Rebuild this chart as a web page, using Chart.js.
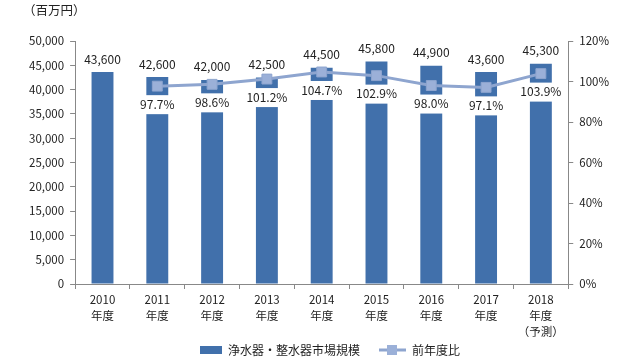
<!DOCTYPE html>
<html>
<head>
    <title>浄水器・整水器市場規模</title>
    <style>
        body { margin: 0; background: #fff; }
        #wrap { width: 640px; height: 360px; }
    </style>
    <script src="https://cdn.jsdelivr.net/npm/chart.js"></script>
</head>
<body>
    <div id="wrap"><canvas id="myChart" width="640" height="360"></canvas></div>
    <script>
        // datos
        var years = ['2010', '2011', '2012', '2013', '2014', '2015', '2016', '2017', '2018'];
        var yearLabels = [['2010', '年度'], ['2011', '年度'], ['2012', '年度'], ['2013', '年度'], ['2014', '年度'],
            ['2015', '年度'], ['2016', '年度'], ['2017', '年度'], ['2018', '年度', '（予測）']];
        var marketSize = [43600, 42600, 42000, 42500, 44500, 45800, 44900, 43600, 45300];
        var yoyRatio = [null, 97.7, 98.6, 101.2, 104.7, 102.9, 98.0, 97.1, 103.9];

        var barColor = '#4170AB';
        var lineColor = '#8EA5CF';
        var fontFam = '"Noto Sans CJK JP", "Noto Sans", sans-serif';

        // iconos de la leyenda (con margen transparente a la izquierda)
        function barIcon() {
            var c = document.createElement('canvas');
            c.width = 44; c.height = 8;
            var g = c.getContext('2d');
            g.fillStyle = barColor;
            g.fillRect(22, 0, 22, 8);
            return c;
        }
        function lineIcon() {
            var c = document.createElement('canvas');
            c.width = 44; c.height = 10;
            var g = c.getContext('2d');
            g.strokeStyle = lineColor;
            g.lineWidth = 3;
            g.beginPath(); g.moveTo(17, 5); g.lineTo(44, 5); g.stroke();
            g.fillStyle = '#9BB0D8';
            g.fillRect(25, 0, 10, 10);
            return c;
        }

        // etiquetas de datos
        var labelPlugin = {
            id: 'labels',
            afterDraw: function (chart) {
                var ctx = chart.ctx;
                ctx.save();
                ctx.font = '12px ' + fontFam;
                ctx.textAlign = 'center';
                ctx.textBaseline = 'middle';
                var barMeta = chart.getDatasetMeta(0);
                barMeta.data.forEach(function (el, i) {
                    ctx.fillStyle = '#222';
                    ctx.fillText(marketSize[i].toLocaleString('en-US'), el.x, el.y - 13);
                });
                var lineMeta = chart.getDatasetMeta(1);
                lineMeta.data.forEach(function (el, i) {
                    if (yoyRatio[i] === null) return;
                    var txt = yoyRatio[i].toFixed(1) + '%';
                    var w = ctx.measureText(txt).width + 6;
                    var cy = el.y + 18;
                    ctx.fillStyle = '#fff';
                    ctx.fillRect(el.x - w / 2, cy - 9, w, 19);
                    ctx.fillStyle = '#222';
                    ctx.fillText(txt, el.x, cy);
                });
                ctx.restore();
            }
        };

        var ctx = document.getElementById('myChart').getContext('2d');
        var myChart = new Chart(ctx, {
            data: {
                labels: yearLabels,
                datasets: [{
                    type: 'bar',
                    label: '浄水器・整水器市場規模',
                    data: marketSize,
                    backgroundColor: barColor,
                    barPercentage: 0.8,
                    categoryPercentage: 0.5,
                    yAxisID: 'y',
                    order: 1
                },
                {
                    type: 'line',
                    label: '前年度比',
                    data: yoyRatio,
                    borderColor: lineColor,
                    backgroundColor: '#9BB0D8',
                    borderWidth: 3,
                    pointStyle: 'rect',
                    pointRadius: 7,
                    pointHoverRadius: 7,
                    pointBorderWidth: 1,
                    yAxisID: 'y1',
                    order: 0
                }]
            },
            options: {
                responsive: false,
                animation: false,
                layout: { padding: { left: 23, right: 25, top: 3, bottom: -6 } },
                plugins: {
                    title: {
                        display: true,
                        text: '（百万円）',
                        align: 'start',
                        color: '#222',
                        font: { family: fontFam, size: 12.5, weight: 'normal' },
                        padding: { top: 0, bottom: 23 }
                    },
                    legend: {
                        position: 'bottom',
                        labels: {
                            color: '#222',
                            font: { family: fontFam, size: 12 },
                            usePointStyle: true,
                            pointStyleWidth: 44,
                            padding: 2,
                            sort: function (a, b) { return a.datasetIndex - b.datasetIndex; },
                            generateLabels: function (chart) {
                                return chart.data.datasets.map(function (ds, i) {
                                    return {
                                        text: ds.label,
                                        pointStyle: i === 0 ? barIcon() : lineIcon(),
                                        datasetIndex: i,
                                        fillStyle: barColor,
                                        strokeStyle: barColor,
                                        lineWidth: 0,
                                        fontColor: '#222'
                                    };
                                });
                            }
                        }
                    },
                    tooltip: { enabled: false }
                },
                scales: {
                    x: {
                        grid: { drawOnChartArea: false, color: '#888', tickLength: 5, offset: true },
                        border: { color: '#888' },
                        ticks: { color: '#222', font: { family: fontFam, size: 11.5, lineHeight: 1.42 }, maxRotation: 0, padding: 2 }
                    },
                    y: {
                        position: 'left',
                        min: 0,
                        max: 50000,
                        grid: { drawOnChartArea: false, color: '#888', tickLength: 5 },
                        border: { color: '#888' },
                        ticks: {
                            stepSize: 5000,
                            color: '#222',
                            font: { family: fontFam, size: 11.5 },
                            padding: 6,
                            callback: function (v) { return v.toLocaleString('en-US'); }
                        }
                    },
                    y1: {
                        position: 'right',
                        min: 0,
                        max: 120,
                        grid: { drawOnChartArea: false, color: '#888', tickLength: 5 },
                        border: { color: '#888' },
                        ticks: {
                            stepSize: 20,
                            color: '#222',
                            font: { family: fontFam, size: 11.5 },
                            padding: 6,
                            callback: function (v) { return v + '%'; }
                        }
                    }
                }
            },
            plugins: [labelPlugin]
        });
    </script>
</body>
</html>
